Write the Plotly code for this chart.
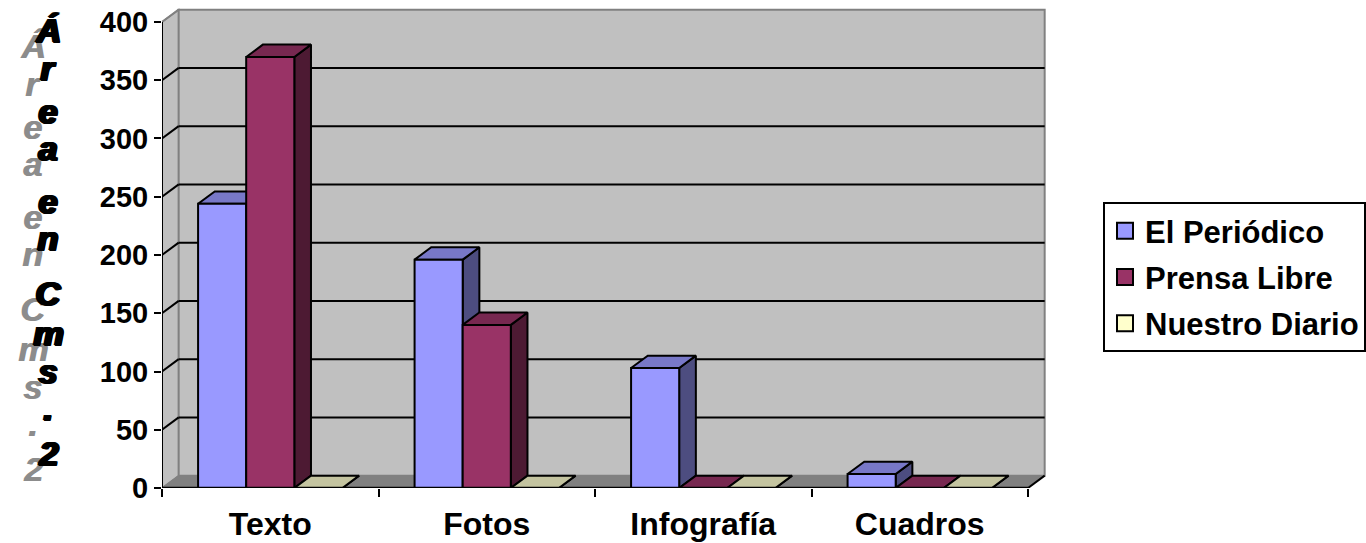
import plotly.graph_objects as go

# ---------------- data ----------------
categories = ["Texto", "Fotos", "Infografía", "Cuadros"]
series_names = ["El Periódico", "Prensa Libre", "Nuestro Diario"]
el_periodico = [244, 196, 103, 12]
prensa_libre = [370, 140, 0, 0]
nuestro_diario = [0, 0, 0, 0]
y_ticks = [0, 50, 100, 150, 200, 250, 300, 350, 400]
y_title = "Área en Cms. 2"

# ---------------- style ----------------
front_colors = ["#9999FF", "#993366", "#FFFFCC"]
top_colors = ["#7878C8", "#772850", "#C4C4A0"]
side_colors = ["#4D4D80", "#4D1A33", "#80806A"]
WALL = "#C0C0C0"
FLOOR = "#808080"
EDGE = "#808080"
DX = 0.077     # depth offset, category units
DY = 10.6      # depth offset, value units
BAR_W = 1 / 4.5
GAP = (1 - 3 * BAR_W) / 2
PLOT_L, PLOT_R, PLOT_T, PLOT_B = 162, 1048, 8, 488   # plot area in pixels
FONT = "Arial, Liberation Sans, sans-serif"

series = [el_periodico, prensa_libre, nuestro_diario]
ncat = len(categories)
ymax = y_ticks[-1]
Y_TOP = 412
X_END = (PLOT_R - PLOT_L) / 216.5

fig = go.Figure()

# bars drawn left to right as 3D boxes (side, top, front)
for ci in range(ncat):
    for si, vals in enumerate(series):
        v = vals[ci]
        x0 = ci + GAP + si * BAR_W
        x1 = x0 + BAR_W
        fig.add_trace(go.Scatter(
            x=[x1, x1 + DX, x1 + DX, x1, x1], y=[0, DY, v + DY, v, 0],
            mode="lines", fill="toself", fillcolor=side_colors[si],
            line=dict(color="black", width=2), showlegend=False, hoverinfo="skip"))
        fig.add_trace(go.Scatter(
            x=[x0, x1, x1 + DX, x0 + DX, x0], y=[v, v, v + DY, v + DY, v],
            mode="lines", fill="toself", fillcolor=top_colors[si],
            line=dict(color="black", width=2), showlegend=False, hoverinfo="skip"))
        fig.add_trace(go.Scatter(
            x=[x0, x1, x1, x0, x0], y=[0, 0, v, v, 0],
            mode="lines", fill="toself", fillcolor=front_colors[si],
            line=dict(color="black", width=2), showlegend=False,
            name=series_names[si],
            hovertemplate=f"{categories[ci]}: {v}<extra>{series_names[si]}</extra>"))

# legend entries
for si, name in enumerate(series_names):
    fig.add_trace(go.Scatter(
        x=[None], y=[None], mode="markers", name=name, legendgroup=name,
        marker=dict(symbol="square", size=16, color=front_colors[si],
                    line=dict(color="black", width=2))))

shapes = []
shapes.append(dict(type="path", xref="x", yref="y", layer="below",
                   path=f"M0,0 L{DX},{DY} L{DX},{ymax + DY} L0,{ymax} Z",
                   fillcolor=WALL, line=dict(color=EDGE, width=1.5)))
shapes.append(dict(type="rect", xref="x", yref="y", layer="below",
                   x0=DX, x1=ncat + DX, y0=DY, y1=ymax + DY,
                   fillcolor=WALL, line=dict(color=EDGE, width=2)))
shapes.append(dict(type="path", xref="x", yref="y", layer="below",
                   path=f"M0,0 L{ncat},0 L{ncat + DX},{DY} L{DX},{DY} Z",
                   fillcolor=FLOOR, line=dict(color=FLOOR, width=1)))
for t in y_ticks[1:-1]:
    shapes.append(dict(type="line", xref="x", yref="y", layer="below",
                       x0=DX, x1=ncat + DX, y0=t + DY, y1=t + DY,
                       line=dict(color="black", width=2)))
    shapes.append(dict(type="line", xref="x", yref="y", layer="below",
                       x0=0, x1=DX, y0=t, y1=t + DY,
                       line=dict(color="black", width=2)))
shapes.append(dict(type="line", xref="x", yref="y", layer="below",
                   x0=0, x1=DX, y0=ymax, y1=ymax + DY, line=dict(color=EDGE, width=2)))
shapes.append(dict(type="line", xref="x", yref="y", layer="above",
                   x0=0, x1=0, y0=0, y1=ymax, line=dict(color="black", width=2)))
shapes.append(dict(type="line", xref="x", yref="y", layer="above",
                   x0=0, x1=ncat, y0=0, y1=0, line=dict(color="black", width=2.5)))
shapes.append(dict(type="line", xref="x", yref="y", layer="above",
                   x0=ncat, x1=ncat + DX, y0=0, y1=DY, line=dict(color="black", width=2)))


def px_x(px):
    return (px - PLOT_L) / (PLOT_R - PLOT_L)


def px_y(py):
    return (PLOT_B - py) / (PLOT_B - PLOT_T)


# vertical axis title, letter by letter, heavy black with a grey drop shadow
visible = [c for c in y_title if c != " "]
char_py = [30, 68, 111, 148, 201, 238, 293, 333, 371, 408, 453]
TITLE_SHADOW = ("1px 0px 0px black, 2px 0px 0px black, 3px 0px 0px black, "
                "1px 1px 0px black, 2px 1px 0px black, 3px 1px 0px black, "
                "-14px 16px 0px #8C8C8C, -13px 16px 0px #8C8C8C")
annotations = []
for c, py in zip(visible, char_py):
    annotations.append(dict(text=c, xref="paper", yref="paper", x=px_x(47), y=px_y(py),
                            showarrow=False, xanchor="center", yanchor="middle",
                            font=dict(family=FONT, size=34, color="black",
                                      style="italic", weight="bold", shadow=TITLE_SHADOW)))

fig.update_layout(
    width=1366, height=543,
    margin=dict(l=PLOT_L, r=1366 - PLOT_R, t=PLOT_T, b=543 - PLOT_B, autoexpand=False),
    paper_bgcolor="white", plot_bgcolor="white",
    shapes=shapes, annotations=annotations,
    showlegend=True,
    legend=dict(x=px_x(1103), xanchor="left", y=px_y(202), yanchor="top",
                bordercolor="black", borderwidth=2, bgcolor="white",
                font=dict(family=FONT, size=31, color="black", weight="bold"),
                tracegroupgap=3, itemwidth=30),
    xaxis=dict(range=[0, X_END], showgrid=False, zeroline=False, showline=False,
               automargin=False,
               tickvals=[i + 0.5 for i in range(ncat)], ticktext=categories, ticks="",
               tickfont=dict(family=FONT, size=32, color="black", weight="bold"),
               ticklabelstandoff=14,
               minor=dict(tickvals=list(range(ncat + 1)), ticks="outside", ticklen=8,
                          tickwidth=2, tickcolor="black", showgrid=False)),
    yaxis=dict(range=[0, Y_TOP], showgrid=False, zeroline=False, showline=False,
               automargin=False,
               tickvals=y_ticks, ticks="outside", ticklen=7, tickwidth=2, tickcolor="black",
               tickfont=dict(family=FONT, size=29, color="black", weight="bold")),
)

fig.write_html("out.html")
